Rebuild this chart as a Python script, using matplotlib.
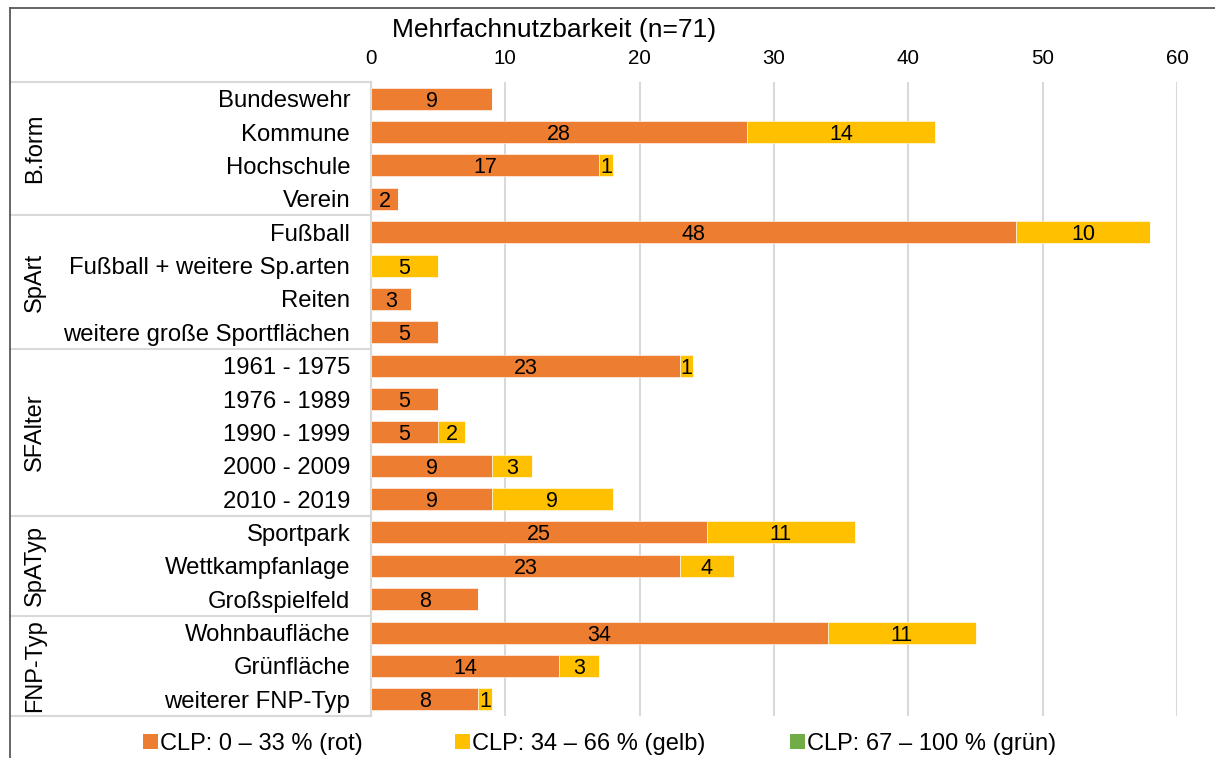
import matplotlib
matplotlib.use("Agg")
import matplotlib.pyplot as plt
import matplotlib.transforms as mtransforms
from matplotlib.lines import Line2D
from matplotlib.patches import Patch
import numpy as np

plt.rcParams['font.family'] = ['Liberation Sans', 'DejaVu Sans']

categories = ["Bundeswehr", "Kommune", "Hochschule", "Verein",
              "Fußball", "Fußball + weitere Sp.arten", "Reiten", "weitere große Sportflächen",
              "1961 - 1975", "1976 - 1989", "1990 - 1999", "2000 - 2009", "2010 - 2019",
              "Sportpark", "Wettkampfanlage", "Großspielfeld",
              "Wohnbaufläche", "Grünfläche", "weiterer FNP-Typ"]
rot = [9, 28, 17, 2, 48, 0, 3, 5, 23, 5, 5, 9, 9, 25, 23, 8, 34, 14, 8]
gelb = [0, 14, 1, 0, 10, 5, 0, 0, 1, 0, 2, 3, 9, 11, 4, 0, 11, 3, 1]
gruen = [0] * 19
groups = ["B.form", "SpArt", "SFAlter", "SpATyp", "FNP-Typ"]
group_sizes = [4, 4, 5, 3, 3]
series_names = ["CLP: 0 – 33 % (rot)", "CLP: 34 – 66 % (gelb)", "CLP: 67 – 100 % (grün)"]
colors = ["#ED7D31", "#FFC000", "#70AD47"]
title = "Mehrfachnutzbarkeit (n=71)"
xticks = [0, 10, 20, 30, 40, 50, 60]

W, H = 1215, 758
fig = plt.figure(figsize=(W / 100, H / 100), dpi=100)
ax = fig.add_axes([371 / W, 1 - 716 / H, (1177 - 371) / W, (716 - 82) / H])

y = np.arange(len(categories))
left = np.zeros(len(categories))
for vals, col in zip([rot, gelb, gruen], colors):
    vals = np.array(vals, dtype=float)
    bars = ax.barh(y, vals, left=left, height=0.66, color=col, edgecolor='white',
                   linewidth=0.4, zorder=3)
    for b, v in zip(bars, vals):
        if v > 0:
            ax.text(b.get_x() + b.get_width() / 2, b.get_y() + b.get_height() / 2,
                    f"{int(v)}", ha='center', va='center_baseline', fontsize=15.5,
                    color='black', zorder=4)
    left += vals

ax.set_xlim(0, 60)
ax.set_ylim(len(categories) - 0.5, -0.5)
ax.set_yticks(y)
ax.set_yticklabels(categories, fontsize=17.2)
ax.set_xticks(xticks)
ax.set_xticklabels([str(t) for t in xticks], fontsize=14.8)
ax.xaxis.tick_top()
ax.tick_params(axis='x', length=0, pad=10)
ax.tick_params(axis='y', length=0, pad=15)
ax.grid(axis='x', color='#D9D9D9', linewidth=1.5, zorder=0)
ax.set_axisbelow(True)
for s in ['top', 'right', 'bottom']:
    ax.spines[s].set_visible(False)
ax.spines['left'].set_color('#D9D9D9')
ax.spines['left'].set_linewidth(1.5)

# group separators and labels
trans = mtransforms.blended_transform_factory(fig.transFigure, ax.transData)
x0 = 10 / W
x1 = 371 / W
bounds = np.concatenate([[0], np.cumsum(group_sizes)]) - 0.5
for b in bounds:
    fig.add_artist(Line2D([x0, x1], [b, b], transform=trans, color='#D9D9D9',
                          linewidth=1.5))
for g, lo, hi in zip(groups, bounds[:-1], bounds[1:]):
    fig.text(35 / W, (lo + hi) / 2, g, transform=trans, rotation=90,
             ha='center', va='center', fontsize=17)

# figure border
fig.add_artist(Line2D([x0, x0], [0, 1 - 8 / H], transform=fig.transFigure,
                      color='#595959', linewidth=1.3))
fig.add_artist(Line2D([x0, 1], [1 - 8 / H, 1 - 8 / H], transform=fig.transFigure,
                      color='#595959', linewidth=1.3))

fig.text(554 / W, 1 - 30 / H, title, ha='center', va='center', fontsize=19)

# legend entries (one per series, positioned like the original)
legend_x = [143, 455, 790]
for c, name, lx in zip(colors, series_names, legend_x):
    fig.legend([Patch(facecolor=c, edgecolor='none')], [name], loc='center left',
               bbox_to_anchor=(lx / W, 1 - 744 / H), frameon=False, fontsize=17,
               handlelength=0.62, handleheight=0.62, handletextpad=0.12,
               borderaxespad=0, borderpad=0)

fig.savefig("out.png", dpi=100)
